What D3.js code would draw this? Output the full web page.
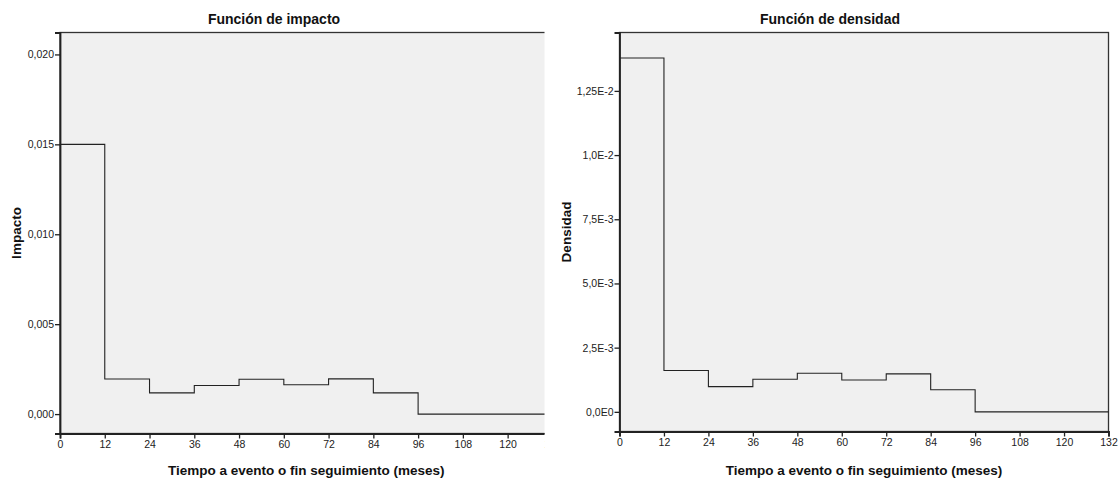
<!DOCTYPE html>
<html lang="es">
<head>
<meta charset="UTF-8" />
<title>Función de impacto / densidad</title>
<script src="https://d3js.org/d3.v7.min.js"></script>
<style>
  body { margin: 0; background: white; font-family: "Liberation Sans", Arial, sans-serif; }
  svg { display: block; }
  .tick text { font-size: 10.5px; fill: #222; }
  .ttl { font-size: 14px; font-weight: bold; fill: #111; }
  .axttl { font-size: 13.5px; font-weight: bold; fill: #111; }
</style>
</head>
<body>
<svg id="chart" width="1120" height="480"></svg>
<script>
// interval start times (months) and the end of the last one
const months = [0, 12, 24, 36, 48, 60, 72, 84, 96, 108, 120, 132];
const xTicks = [0, 12, 24, 36, 48, 60, 72, 84, 96, 108, 120, 132];

// one value per 12-month interval
const impacto = [0.0150, 0.00195, 0.00118, 0.00159, 0.00194, 0.00163, 0.00196, 0.00118, 0, 0, 0];
const densidad = [0.01378, 0.00161, 0.00098, 0.00127, 0.00150, 0.00124, 0.00148, 0.00086, 0, 0, 0];

const impactoTicks = [0, 0.005, 0.010, 0.015, 0.020];
const impactoLabels = ["0,000", "0,005", "0,010", "0,015", "0,020"];
const densidadTicks = [0, 0.0025, 0.005, 0.0075, 0.01, 0.0125];
const densidadLabels = ["0,0E0", "2,5E-3", "5,0E-3", "7,5E-3", "1,0E-2", "1,25E-2"];

const svg = d3.select("#chart");

function panel(opt) {
  const root = svg.append("g");
  if (opt.clipRight) {
    const id = "clip" + opt.key;
    svg.append("defs").append("clipPath").attr("id", id)
      .append("rect").attr("x", 0).attr("y", 0).attr("width", opt.clipRight).attr("height", 480);
    root.attr("clip-path", `url(#${id})`);
  }
  const x = d3.scaleLinear().domain([0, 132]).range([opt.left, opt.right]);
  const y = d3.scaleLinear().domain(opt.yDomain).range([opt.bottom, opt.top]);

  // plot background + frame
  root.append("rect")
    .attr("x", opt.left).attr("y", opt.top)
    .attr("width", opt.right - opt.left).attr("height", opt.bottom - opt.top)
    .attr("fill", "#f0f0f0").attr("stroke", "#333").attr("stroke-width", 1.3);

  // step line
  const pts = months.map((m, i) => [m, opt.values[Math.min(i, opt.values.length - 1)]]);
  root.append("path")
    .attr("d", d3.line().x(d => x(d[0])).y(d => y(d[1])).curve(d3.curveStepAfter)(pts))
    .attr("fill", "none").attr("stroke", "#222").attr("stroke-width", 1.1);

  // axes
  const ya = root.append("g").attr("transform", `translate(${opt.left},0)`)
    .call(d3.axisLeft(y).tickValues(opt.yTicks).tickFormat((d, i) => opt.yLabels[i]).tickSize(5).tickPadding(1));
  const xa = root.append("g").attr("transform", `translate(0,${opt.bottom})`)
    .call(d3.axisBottom(x).tickValues(xTicks).tickFormat(d => d).tickSize(5).tickPadding(2));
  [ya, xa].forEach(a => {
    a.select(".domain").attr("stroke", "#222").attr("stroke-width", 1.8);
    a.selectAll(".tick line").attr("stroke", "#222").attr("stroke-width", 1.3);
    a.attr("font-family", null).attr("font-size", null);
  });

  // titles
  svg.append("text").attr("class", "ttl")
    .attr("x", opt.titleX).attr("y", 24).attr("text-anchor", "middle").text(opt.title);
  svg.append("text").attr("class", "axttl")
    .attr("transform", `translate(${opt.yTitleX},${(opt.top + opt.bottom) / 2}) rotate(-90)`)
    .attr("text-anchor", "middle").text(opt.yTitle);
  svg.append("text").attr("class", "axttl")
    .attr("x", (opt.left + opt.right) / 2).attr("y", 475).attr("text-anchor", "middle")
    .text("Tiempo a evento o fin seguimiento (meses)");
}

panel({
  key: "L", left: 60, right: 552.4, top: 32.5, bottom: 433.5, clipRight: 544.5,
  yDomain: [-0.00108, 0.02122], values: impacto,
  yTicks: impactoTicks, yLabels: impactoLabels,
  title: "Función de impacto", titleX: 274, yTitle: "Impacto", yTitleX: 21
});

panel({
  key: "R", left: 619.5, right: 1108.5, top: 32.5, bottom: 431.5,
  yDomain: [-0.000766, 0.014774], values: densidad,
  yTicks: densidadTicks, yLabels: densidadLabels,
  title: "Función de densidad", titleX: 830, yTitle: "Densidad", yTitleX: 571
});
</script>
</body>
</html>
